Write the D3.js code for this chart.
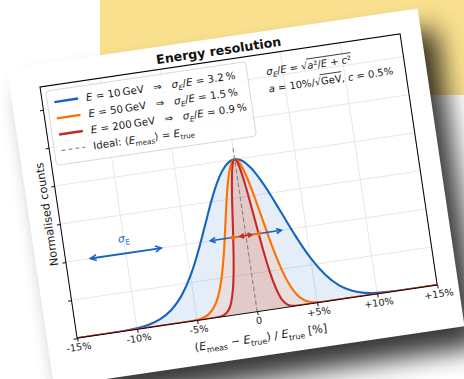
<!DOCTYPE html>
<html>
<head>
<meta charset="utf-8">
<script src="https://cdn.jsdelivr.net/npm/d3@7"></script>
<style>
  body { margin: 0; background: #fff; }
  svg { display: block; font-family: "DejaVu Sans", sans-serif; }
  text { white-space: pre; }
</style>
</head>
<body>
<div id="chart"></div>
<script>
// ---- data ----
const energies = [10, 50, 200];            // GeV
const resolutions = [3.2, 1.5, 0.9];       // sigma_E / E in %
const seriesColors = ["#1565c0", "#ff6f00", "#c62828"];

const xValues = [-15, -12, -10, -9, -8, -7, -6, -5, -4.5, -4, -3.5, -3, -2.5, -2, -1.5, -1.25, -1, -0.75, -0.5, -0.25, 0,
                 0.25, 0.5, 0.75, 1, 1.25, 1.5, 2, 2.5, 3, 3.5, 4, 4.5, 5, 6, 7, 8, 9, 10, 12, 15];
const counts10GeV = [0, 0.001, 0.008, 0.019, 0.044, 0.091, 0.172, 0.295, 0.372, 0.458, 0.550, 0.644, 0.737, 0.823, 0.896, 0.927, 0.952, 0.973, 0.988, 0.997, 1,
                     0.997, 0.988, 0.973, 0.952, 0.927, 0.896, 0.823, 0.737, 0.644, 0.550, 0.458, 0.372, 0.295, 0.172, 0.091, 0.044, 0.019, 0.008, 0.001, 0];
const counts50GeV = [0, 0, 0, 0, 0, 0, 0, 0.004, 0.011, 0.029, 0.066, 0.135, 0.249, 0.411, 0.607, 0.707, 0.801, 0.882, 0.946, 0.986, 1,
                     0.986, 0.946, 0.882, 0.801, 0.707, 0.607, 0.411, 0.249, 0.135, 0.066, 0.029, 0.011, 0.004, 0, 0, 0, 0, 0, 0, 0];
const counts200GeV = [0, 0, 0, 0, 0, 0, 0, 0, 0, 0, 0.001, 0.004, 0.021, 0.085, 0.249, 0.381, 0.539, 0.707, 0.857, 0.962, 1,
                      0.962, 0.857, 0.707, 0.539, 0.381, 0.249, 0.085, 0.021, 0.004, 0.001, 0, 0, 0, 0, 0, 0, 0, 0, 0, 0];

const xTicks = [-15, -10, -5, 0, 5, 10, 15];
const xTickLabels = ["-15%", "-10%", "-5%", "0", "+5%", "+10%", "+15%"];
const yTicks = [0, 0.25, 0.5, 0.75, 1, 1.25, 1.5];

const idealTop = 1.08;          // dashed "ideal" line height
const sigmaLevel = 0.5;         // height of the +-sigma arrows
const sigmaKeyCenter = -10;     // the sigma_E key arrow on the left
const sigmaKeyLabelLevel = 0.6;

// ---- layout ----
const W = 464, H = 379;
const width = 364, height = 254;      // axes box before the tilt
const tilt = -8.4;
const origin = [40, 87];

const svg = d3.select("#chart").append("svg").attr("width", W).attr("height", H);
const defs = svg.append("defs");

defs.append("filter").attr("id", "blur")
    .attr("x", "-30%").attr("y", "-30%").attr("width", "160%").attr("height", "160%")
  .append("feGaussianBlur").attr("stdDeviation", 13);

svg.append("rect").attr("width", W).attr("height", H).attr("fill", "#fff");
svg.append("rect").attr("x", 100).attr("y", 0).attr("width", 364).attr("height", 95).attr("fill", "#f9e08f");

const card = { x: -30, y: -22.5, w: 415, h: 321 };

svg.append("g")
    .attr("transform", `translate(${origin[0] + 18},${origin[1] + 20}) rotate(${tilt})`)
  .append("rect")
    .attr("x", card.x).attr("y", card.y).attr("width", card.w).attr("height", card.h)
    .attr("fill", "#000").attr("opacity", 0.78).attr("filter", "url(#blur)");

const g = svg.append("g").attr("transform", `translate(${origin[0]},${origin[1]}) rotate(${tilt})`);

g.append("rect")
    .attr("x", card.x).attr("y", card.y).attr("width", card.w).attr("height", card.h)
    .attr("fill", "#fff");

const x = d3.scaleLinear().domain([-15, 15]).range([0, width]);
const y = d3.scaleLinear().domain([0, 1.65]).range([height, 0]);

defs.append("clipPath").attr("id", "clip")
  .append("rect").attr("width", width).attr("height", height);

// grid
g.append("g").selectAll("line").data(xTicks).join("line")
    .attr("x1", d => x(d)).attr("x2", d => x(d)).attr("y1", 0).attr("y2", height)
    .attr("stroke", "#e3e3e3").attr("stroke-width", 0.8);
g.append("g").selectAll("line").data(yTicks).join("line")
    .attr("y1", d => y(d)).attr("y2", d => y(d)).attr("x1", 0).attr("x2", width)
    .attr("stroke", "#e3e3e3").attr("stroke-width", 0.8);

// curves
const series = [counts10GeV, counts50GeV, counts200GeV];
const fillOpacity = [0.11, 0.1, 0.12];

const area = d3.area().curve(d3.curveMonotoneX)
    .x((d, i) => x(xValues[i])).y0(y(0)).y1(d => y(d));
const line = d3.line().curve(d3.curveMonotoneX)
    .x((d, i) => x(xValues[i])).y(d => y(d));

const plot = g.append("g").attr("clip-path", "url(#clip)");

series.forEach((s, k) => {
  plot.append("path").datum(s)
      .attr("d", area)
      .attr("fill", seriesColors[k]).attr("fill-opacity", fillOpacity[k]);
});
series.forEach((s, k) => {
  plot.append("path").datum(s)
      .attr("d", line)
      .attr("fill", "none").attr("stroke", seriesColors[k]).attr("stroke-width", 2.1)
      .attr("stroke-linejoin", "round");
});

plot.append("line")
    .attr("x1", x(0)).attr("x2", x(0)).attr("y1", y(0)).attr("y2", y(idealTop))
    .attr("stroke", "#8a8a8a").attr("stroke-width", 1.2).attr("stroke-dasharray", "4,3");

// arrow heads
function head(id, color, len, half) {
  defs.append("marker").attr("id", id)
      .attr("markerUnits", "userSpaceOnUse")
      .attr("viewBox", `${-len - 2} ${-half - 2} ${len + 4} ${2 * half + 4}`)
      .attr("markerWidth", len + 4).attr("markerHeight", 2 * half + 4)
      .attr("refX", 0).attr("refY", 0)
      .attr("orient", "auto-start-reverse")
    .append("path")
      .attr("d", `M${-len},${-half}L0,0L${-len},${half}`)
      .attr("fill", "none").attr("stroke", color).attr("stroke-width", 1.6)
      .attr("stroke-linejoin", "miter");
}
head("hb", seriesColors[0], 5, 2.6);
head("hbBig", seriesColors[0], 6, 3);
head("hr", seriesColors[2], 4, 2.2);
defs.append("marker").attr("id", "dotO")
    .attr("markerUnits", "userSpaceOnUse").attr("viewBox", "-3 -3 6 6")
    .attr("markerWidth", 6).attr("markerHeight", 6).attr("refX", 0).attr("refY", 0)
  .append("circle").attr("r", 2.3).attr("fill", seriesColors[1]);

const arrowShrink = [3, 5, 5];
const arrowMarker = ["hb", "dotO", "hr"];
resolutions.forEach((r, k) => {
  g.append("line")
      .attr("x1", x(-r) + arrowShrink[k]).attr("x2", x(r) - arrowShrink[k])
      .attr("y1", y(sigmaLevel)).attr("y2", y(sigmaLevel))
      .attr("stroke", seriesColors[k]).attr("stroke-width", 1.4)
      .attr("marker-start", `url(#${arrowMarker[k]})`).attr("marker-end", `url(#${arrowMarker[k]})`);
});

g.append("line")
    .attr("x1", x(sigmaKeyCenter - resolutions[0]) + 3).attr("x2", x(sigmaKeyCenter + resolutions[0]) - 3)
    .attr("y1", y(sigmaLevel)).attr("y2", y(sigmaLevel))
    .attr("stroke", seriesColors[0]).attr("stroke-width", 1.8)
    .attr("marker-start", "url(#hbBig)").attr("marker-end", "url(#hbBig)");

// math-ish text: parts are strings or [text, style] with style "i" italic, "s" subscript, "si" italic subscript
function mathText(sel, px, py, parts, size, anchor) {
  const t = sel.append("text").attr("x", px).attr("y", py)
      .attr("font-size", size).attr("fill", "#1a1a1a")
      .attr("text-anchor", anchor || "start");
  let shift = 0;
  parts.forEach(p => {
    const [s, st] = typeof p === "string" ? [p, ""] : p;
    const sub = st.includes("s");
    const target = sub ? size * 0.28 : 0;
    const ts = t.append("tspan").text(s).attr("dy", target - shift);
    shift = target;
    if (sub) ts.attr("font-size", size * 0.7);
    if (st.includes("i")) ts.attr("font-style", "italic");
  });
  return t;
}

const sk = mathText(g, x(sigmaKeyCenter), y(sigmaKeyLabelLevel) + 4, [["σ", "i"], ["E", "s"]], 10.5, "middle");
sk.attr("fill", seriesColors[0]);

// frame + ticks
g.append("g").attr("transform", `translate(0,${height})`)
    .call(d3.axisBottom(x).tickValues(xTicks).tickFormat((d, i) => xTickLabels[i]).tickSize(3.5).tickPadding(2))
    .call(a => a.select(".domain").remove())
    .call(a => a.selectAll("line").attr("stroke", "#000").attr("stroke-width", 0.9))
    .call(a => a.selectAll("text").attr("font-size", 9.7).attr("fill", "#1a1a1a")
        .attr("font-family", "DejaVu Sans"));
g.append("g")
    .call(d3.axisLeft(y).tickValues(yTicks).tickFormat("").tickSize(3.5))
    .call(a => a.select(".domain").remove())
    .call(a => a.selectAll("line").attr("stroke", "#000").attr("stroke-width", 0.9));

g.append("rect").attr("width", width).attr("height", height)
    .attr("fill", "none").attr("stroke", "#000").attr("stroke-width", 1);

// title and axis labels
g.append("text").attr("x", width / 2).attr("y", -5.5)
    .attr("text-anchor", "middle").attr("font-size", 12.6).attr("font-weight", "bold")
    .attr("fill", "#111").text("Energy resolution");

mathText(g, width / 2, height + 30, ["(", ["E", "i"], ["meas", "s"], " − ", ["E", "i"], ["true", "s"], ") / ",
  ["E", "i"], ["true", "s"], " [%]"], 11.2, "middle");

g.append("text")
    .attr("transform", `translate(-8,${height / 2}) rotate(-90)`)
    .attr("text-anchor", "middle").attr("font-size", 11.2).attr("fill", "#1a1a1a")
    .text("Normalised counts");

// legend
const lg = g.append("g");
lg.append("rect").attr("x", 5).attr("y", 5).attr("width", 202).attr("height", 75).attr("rx", 3)
    .attr("fill", "#fff").attr("fill-opacity", 0.8).attr("stroke", "#d0d0d0").attr("stroke-width", 0.8);

const rowY = [17, 33.5, 49.8, 66];
energies.forEach((e, k) => {
  lg.append("line").attr("x1", 12).attr("x2", 36).attr("y1", rowY[k]).attr("y2", rowY[k])
      .attr("stroke", seriesColors[k]).attr("stroke-width", 2.4);
  mathText(lg, 44, rowY[k] + 3.6, [["E", "i"], ` = ${e}\u2009GeV   ⇒   `, ["σ", "i"], ["E", "si"], "/", ["E", "i"],
    ` = ${resolutions[k]}\u2009%`], 10.3);
});
lg.append("line").attr("x1", 12).attr("x2", 36).attr("y1", rowY[3]).attr("y2", rowY[3])
    .attr("stroke", "#8a8a8a").attr("stroke-width", 1.2).attr("stroke-dasharray", "4,3");
mathText(lg, 44, rowY[3] + 3.6, ["Ideal: ⟨", ["E", "i"], ["meas", "s"], "⟩ = ", ["E", "i"], ["true", "s"]], 10.3);

// resolution formula, with the bar over the square root
function withRoot(sel, px, py, before, under, after, size) {
  const a = mathText(sel, px, py, before, size);
  const la = a.node().getComputedTextLength();
  const b = mathText(sel, px + la, py, under, size);
  const lb = b.node().getComputedTextLength();
  sel.append("line").attr("x1", px + la - 0.5).attr("x2", px + la + lb + 0.5)
      .attr("y1", py - size * 1.02).attr("y2", py - size * 1.02)
      .attr("stroke", "#1a1a1a").attr("stroke-width", 0.8);
  if (after) mathText(sel, px + la + lb, py, after, size);
}
withRoot(g, 226, 21.5, [["σ", "i"], ["E", "si"], "/", ["E", "i"], " = √"],
  [["a", "i"], "²/", ["E", "i"], " + ", ["c", "i"], "²"], null, 10);
withRoot(g, 226, 39, [["a", "i"], " = 10%/√"], ["GeV"], [", ", ["c", "i"], " = 0.5%"], 10);
</script>
</body>
</html>
